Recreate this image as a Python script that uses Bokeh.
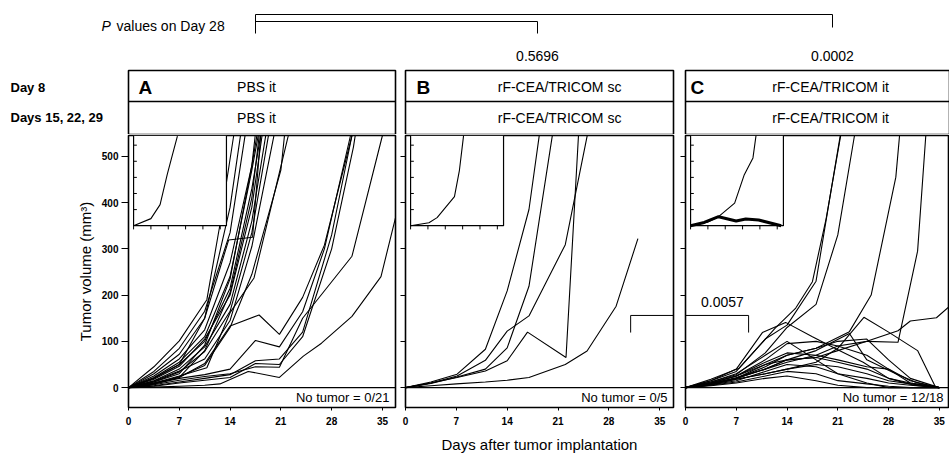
from bokeh.plotting import figure
from bokeh.layouts import column, row
from bokeh.models import Range1d, FixedTicker, Span, CustomJSTickFormatter
from bokeh.core.properties import value
from bokeh.embed import file_html
from bokeh.resources import INLINE

FONT = "Liberation Sans"

# ---------------- data ----------------
tick_days = [0, 7, 14, 21, 28, 35]
volume_ticks = [0, 100, 200, 300, 400, 500]

panel_letters = ["A", "B", "C"]
day8_titles = ["PBS  it", "rF-CEA/TRICOM  sc", "rF-CEA/TRICOM  it"]
later_titles = ["PBS  it", "rF-CEA/TRICOM  sc", "rF-CEA/TRICOM  it"]
row_labels = ["Day 8", "Days 15, 22, 29"]
no_tumor_labels = ["No tumor = 0/21", "No tumor = 0/5", "No tumor = 12/18"]
p_values_day28 = ["0.5696", "0.0002"]
p_value_b_vs_c = "0.0057"

# Panel A: PBS it, 21 mice (days, tumor volume mm3)
pbs_mice = [
    ([0, 3.5, 7, 10.8, 12.6, 14.5, 15.5], [0, 45, 101, 190, 352, 545, 640]),
    ([0, 3.5, 7, 10.5, 14, 17], [0, 35, 85, 165, 335, 640]),
    ([0, 3.5, 7, 10.5, 14, 16.5], [0, 30, 72, 150, 390, 660]),
    ([0, 3.5, 7, 10.5, 14, 17, 18.5], [0, 25, 62, 125, 270, 480, 620]),
    ([0, 3.5, 7, 10.5, 14, 17, 19], [0, 22, 55, 110, 240, 470, 640]),
    ([0, 3.5, 7, 10.5, 14, 17, 19], [0, 20, 50, 100, 215, 430, 620]),
    ([0, 3.5, 7, 10.5, 14, 17, 19], [0, 18, 46, 105, 200, 390, 610]),
    ([0, 3.5, 7, 10.5, 14, 17, 20], [0, 15, 40, 88, 180, 360, 650]),
    ([0, 3.5, 7, 10.5, 14, 17, 20], [0, 12, 34, 78, 165, 335, 610]),
    ([0, 3.5, 7, 10.5, 13.8, 17.1, 18.5], [0, 20, 50, 150, 319, 325, 600]),
    ([0, 3.5, 7, 10.5, 14, 17, 21], [0, 14, 36, 62, 145, 305, 620]),
    ([0, 3.5, 7, 10.8, 14, 17.3, 22, 22.5], [0, 10, 25, 43, 162, 237, 543, 600]),
    ([0, 3.5, 7, 10.5, 14, 17, 21, 22], [0, 8, 24, 48, 130, 245, 470, 620]),
    ([0, 3.5, 7, 10.5, 14, 17, 18.5], [0, 8, 22, 80, 205, 410, 610]),
    ([0, 3.5, 7, 10.5, 14, 17, 18], [0, 12, 30, 92, 235, 480, 620]),
    ([0, 3.5, 7, 10.5, 12.6, 16.5, 20.8, 24.1, 26.6, 30.8, 34.8, 37], [0, 1, 3, 5, 8, 35, 22, 68, 96, 154, 240, 380]),
    ([0, 3.5, 7, 10.5, 14, 17.5, 20.8, 24, 28, 30.8, 31.5], [0, 4, 12, 20, 28, 58, 62, 120, 330, 545, 600]),
    ([0, 3.5, 7, 10.5, 14, 17.5, 20.8, 24, 28, 31, 32], [0, 3, 10, 16, 22, 52, 50, 110, 300, 520, 620]),
    ([0, 3.5, 7, 10.5, 14, 17.5, 20.8, 24, 27, 30.6, 31], [0, 8, 20, 28, 40, 102, 88, 164, 300, 545, 600]),
    ([0, 3.5, 7, 10.5, 14, 18, 20.8, 24, 27, 30.8, 31.5], [0, 10, 22, 52, 133, 157, 115, 195, 308, 545, 620]),
    ([0, 3.5, 7, 10.5, 14, 17.5, 20.8, 24, 30.8, 35, 36], [0, 6, 16, 24, 30, 45, 44, 150, 284, 545, 640]),
]

# Panel B: rF-CEA/TRICOM sc, 5 mice
sc_mice = [
    ([0, 3.5, 7, 11, 14, 17, 22, 25, 29, 32], [0, 4, 8, 12, 16, 22, 50, 79, 176, 322]),
    ([0, 3.5, 7.1, 11, 14, 16.8, 22.1, 24.8], [0, 10, 22, 36, 58, 120, 65, 820]),
    ([0, 3.5, 7.1, 11, 14, 17, 22, 25, 26], [0, 10, 25, 59, 122, 155, 309, 543, 620]),
    ([0, 3.5, 7.1, 11, 14, 17, 18.4, 19], [0, 12, 29, 83, 209, 385, 543, 620]),
    ([0, 3.5, 7.1, 11, 14, 17, 20.2, 21], [0, 9, 23, 40, 86, 219, 543, 640]),
]

# Panel C: rF-CEA/TRICOM it, 18 mice
std_days = [0, 3.5, 7, 11, 14, 18, 21, 25, 28, 31, 35]
it_mice = [
    ([0, 3.5, 7, 11, 14, 18, 20, 21.5], [0, 15, 35, 105, 135, 230, 420, 560]),
    ([0, 3.5, 7.4, 12.4, 15.2, 17.5, 19.4, 21.4, 22], [0, 18, 42, 129, 172, 229, 366, 545, 600]),
    ([0, 3.5, 7, 11, 14, 18, 21, 23.3, 24], [0, 12, 28, 75, 130, 180, 330, 545, 620]),
    ([0, 3.5, 7, 11, 14, 18, 22.6, 25.6, 29, 29.6], [0, 8, 20, 45, 70, 85, 121, 200, 455, 560]),
    ([0, 3.5, 7, 11, 14, 18, 21, 25, 29.3, 32, 33.2], [0, 10, 25, 50, 60, 65, 80, 100, 98, 295, 560]),
    ([0, 3.5, 7, 11, 14, 18, 21, 25, 29.3, 31, 34.6, 36.5], [0, 8, 22, 40, 55, 70, 90, 100, 123, 144, 151, 177]),
    ([0, 3.5, 7, 10.6, 13.8, 17.5, 21.2, 24.5, 28, 31.5, 35], [0, 15, 40, 119, 141, 110, 80, 55, 20, 5, 0]),
    ([0, 3.5, 7, 11, 14, 18, 21, 24.6, 28, 32, 34.5], [0, 6, 18, 30, 40, 55, 85, 152, 120, 80, 0]),
    ([0, 3.5, 7, 11, 14, 18, 22.6, 25, 29, 32, 35], [0, 8, 20, 40, 60, 80, 117, 60, 30, 10, 0]),
    (std_days, [0, 10, 25, 60, 95, 100, 90, 70, 40, 10, 0]),
    (std_days, [0, 12, 30, 70, 100, 60, 30, 10, 0, 0, 0]),
    (std_days, [0, 8, 20, 40, 60, 65, 55, 40, 20, 10, 0]),
    (std_days, [0, 6, 15, 35, 50, 45, 30, 20, 10, 5, 0]),
    (std_days, [0, 7, 18, 30, 40, 50, 45, 30, 15, 8, 0]),
    (std_days, [0, 5, 12, 25, 35, 30, 15, 8, 3, 0, 0]),
    (std_days, [0, 4, 10, 20, 25, 15, 5, 0, 0, 0, 0]),
    (std_days, [0, 8, 20, 50, 70, 85, 100, 105, 60, 20, 0]),
    (std_days, [0, 10, 25, 55, 75, 70, 60, 45, 40, 15, 0]),
]

# Insets (own scales: days 0-37.5, volume 0-560)
inset_a_days = [0, 7, 10.7, 13.6, 15.2, 17.7]
inset_a_vol = [0, 44, 131, 319, 412, 556]
inset_b_days = [0, 7.4, 10.7, 17.7, 19.7, 21.4]
inset_b_vol = [0, 18, 50, 181, 344, 562]
inset_c_days = [0, 6.8, 11.3, 17.8, 21.7, 25.2, 26.5]
inset_c_vol = [0, 21, 56, 140, 317, 421, 567]
inset_c2_days = [0, 5.5, 11.3, 18.4, 22.3, 27.5, 36.6]
inset_c2_vol = [0, 20, 56, 29, 42, 35, 0]
inset_day_ticks = [0, 7, 14, 21, 28, 35]
inset_vol_ticks = [100, 200, 300, 400, 500]

# ---------------- layout ----------------
Y_LO, Y_HI = -43, 545
INSET_X0, INSET_X1 = 0.7, 13.5
INSET_Y0, INSET_Y1 = 350, 545
INSET_DAY_MAX, INSET_VOL_MAX = 37.5, 560


def ix(d):
    return INSET_X0 + d / INSET_DAY_MAX * (INSET_X1 - INSET_X0)


def iy(v):
    return INSET_Y0 + v / INSET_VOL_MAX * (INSET_Y1 - INSET_Y0)


def txt(p, x, y, s, size="14px", style="normal", align="center", **kw):
    p.text(x=[x], y=[y], text=[s], text_font=value(FONT), text_font_size=size,
           text_font_style=style, text_align=align, text_baseline="middle",
           text_color="black", **kw)


def make_panel(mice, insets, x_end, width, mbl, mbr, no_tumor, first=False, xlabel=None):
    p = figure(width=width, height=322, x_range=Range1d(0, x_end), y_range=Range1d(Y_LO, Y_HI),
               output_backend="svg", toolbar_location=None,
               min_border_left=mbl, min_border_right=mbr, min_border_top=1, min_border_bottom=49)
    p.grid.visible = False
    p.outline_line_color = "black"
    p.outline_line_width = 1.6
    p.border_fill_color = "white"
    for d, v in mice:
        p.line(d, v, line_color="black", line_width=1.1)
    p.add_layout(Span(location=0, dimension="width", line_color="black", line_width=1.4))
    # inset
    p.quad(left=[INSET_X0], right=[INSET_X1], bottom=[INSET_Y0], top=[INSET_Y1],
           fill_color="white", line_color="black", line_width=1.2)
    p.segment(x0=[ix(t) for t in inset_day_ticks], x1=[ix(t) for t in inset_day_ticks],
              y0=[INSET_Y0] * len(inset_day_ticks), y1=[INSET_Y0 - 8] * len(inset_day_ticks),
              line_color="black", line_width=1)
    p.segment(x0=[INSET_X0] * len(inset_vol_ticks), x1=[INSET_X0 + 0.45] * len(inset_vol_ticks),
              y0=[iy(t) for t in inset_vol_ticks], y1=[iy(t) for t in inset_vol_ticks],
              line_color="black", line_width=1)
    for d, v, lw in insets:
        p.line([ix(a) for a in d], [iy(b) for b in v], line_color="black", line_width=lw)
    txt(p, x_end, -21, no_tumor, size="13px", align="right", x_offset=-6)

    xa = p.xaxis[0]
    xa.ticker = FixedTicker(ticks=tick_days)
    xa.major_tick_out = 3
    xa.major_tick_in = 0
    xa.minor_tick_line_color = None
    xa.axis_line_color = "black"
    xa.major_tick_line_color = "black"
    xa.major_label_text_color = "black"
    xa.major_label_text_font = FONT
    xa.major_label_text_font_size = "10px"
    xa.major_label_text_font_style = "bold"
    xa.major_label_standoff = 6
    if xlabel:
        xa.axis_label = xlabel
        xa.axis_label_text_font = FONT
        xa.axis_label_text_font_size = "15px"
        xa.axis_label_text_font_style = "normal"
        xa.axis_label_text_color = "black"
        xa.axis_label_standoff = 8

    ya = p.yaxis[0]
    ya.ticker = FixedTicker(ticks=volume_ticks)
    ya.minor_tick_line_color = None
    ya.major_tick_in = 0
    ya.axis_line_color = "black"
    ya.major_tick_line_color = "black"
    if first:
        ya.major_tick_out = 7
        ya.major_label_standoff = 3
        ya.major_label_text_color = "black"
        ya.major_label_text_font = FONT
        ya.major_label_text_font_size = "10px"
        ya.major_label_text_font_style = "bold"
        ya.axis_label = "Tumor volume (mm³)"
        ya.axis_label_text_font = FONT
        ya.axis_label_text_font_size = "15px"
        ya.axis_label_text_font_style = "normal"
        ya.axis_label_text_color = "black"
        ya.axis_label_standoff = 5
    else:
        ya.major_tick_out = 5
        ya.major_label_standoff = 0
        ya.formatter = CustomJSTickFormatter(code="return ''")
    return p


pA = make_panel(pbs_mice, [(inset_a_days, inset_a_vol, 1.1)], 36.8, 399, 128, 4,
                no_tumor_labels[0], first=True)
pB = make_panel(sc_mice, [(inset_b_days, inset_b_vol, 1.1)], 36.9, 280, 6, 6,
                no_tumor_labels[1], xlabel="Days after tumor implantation")
pC = make_panel(it_mice, [(inset_c_days, inset_c_vol, 1.1), (inset_c2_days, inset_c2_vol, 3)],
                36.4, 270, 6, 0, no_tumor_labels[2])

# P value B vs C bracket
pB.line([31.0, 31.0, 40.0], [119, 156, 156], line_color="black", line_width=1)
pC.line([-3.0, 8.7, 8.7], [156, 156, 119], line_color="black", line_width=1)
txt(pC, 5.1, 186, p_value_b_vs_c, size="14px")

# ---------------- header ----------------
top = figure(width=949, height=134, x_range=Range1d(0, 949), y_range=Range1d(134, 0),
             output_backend="svg", toolbar_location=None, min_border=0,
             x_axis_location=None, y_axis_location=None)
top.grid.visible = False
top.outline_line_color = None

lefts = [128, 405, 685]
rights = [395, 673, 949]
letter_x = [138, 416, 690]
title_x = [258, 561, 832]
top.quad(left=lefts, right=rights, top=[70] * 3, bottom=[134] * 3,
         fill_color=None, line_color="black", line_width=1.6)
top.segment(x0=lefts, x1=rights, y0=[101] * 3, y1=[101] * 3, line_color="black", line_width=1.4)
for i in range(3):
    txt(top, letter_x[i], 87, panel_letters[i], size="19px", style="bold", align="left")
    txt(top, title_x[i], 86, day8_titles[i], size="14px")
    txt(top, title_x[i], 117, later_titles[i], size="14px")
txt(top, 10, 87, row_labels[0], size="13px", style="bold", align="left")
txt(top, 10, 117, row_labels[1], size="13px", style="bold", align="left")

txt(top, 101, 25, "P", size="14px", style="italic", align="left")
txt(top, 116, 25, "values on Day 28", size="14px", align="left")
top.multi_line(xs=[[255, 255, 832, 832], [255, 537, 537]], ys=[[33, 14, 14, 27], [21, 21, 33]],
               line_color="black", line_width=1)
txt(top, 537, 55, p_values_day28[0], size="14px")
txt(top, 832, 55, p_values_day28[1], size="14px")

layout = column(top, row(pA, pB, pC, spacing=0), spacing=0)
open("out.html", "w").write(file_html(layout, INLINE))
